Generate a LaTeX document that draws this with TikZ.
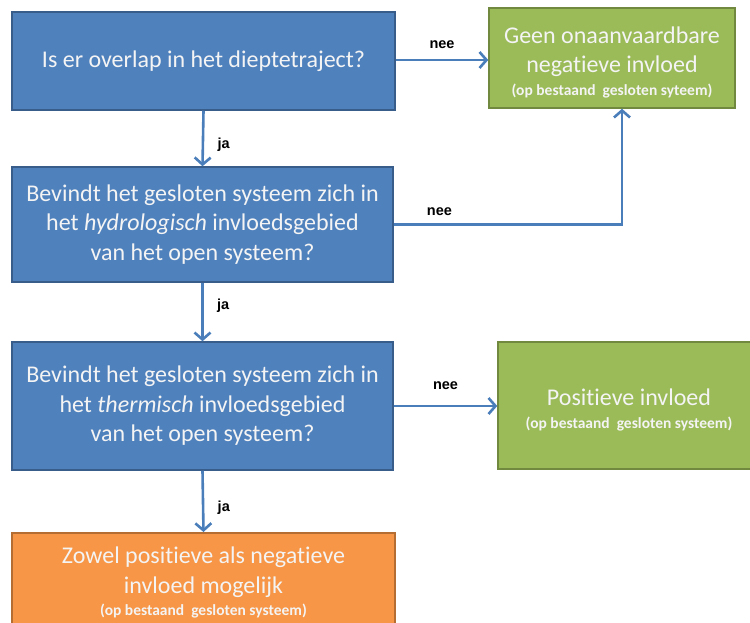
\documentclass[tikz,border=0pt]{standalone}
\usepackage{fontspec}
\setmainfont{Carlito}[Ligatures={NoCommon}]
\newfontfamily\lblfont{Liberation Sans}
\usetikzlibrary{arrows.meta}
\definecolor{bluefill}{HTML}{4F81BD}
\definecolor{blueedge}{HTML}{385D8A}
\definecolor{greenfill}{HTML}{9BBB59}
\definecolor{greenedge}{HTML}{71893F}
\definecolor{orangefill}{HTML}{F79646}
\definecolor{orangeedge}{HTML}{B66D31}
\definecolor{arrowcol}{HTML}{4A7EBB}
\definecolor{boxtext}{HTML}{F4F4F4}
\newcommand{\smallnote}[1]{{\fontsize{15.5}{17}\selectfont\bfseries #1}}
\begin{document}
\begin{tikzpicture}[x=1pt,y=-1pt,
  box/.style={draw, line width=1.5pt, inner sep=0pt, align=center, text=boxtext, font=\fontsize{24}{29.5}\selectfont},
  bluebox/.style={box, fill=bluefill, draw=blueedge},
  greenbox/.style={box, fill=greenfill, draw=greenedge},
  orangebox/.style={box, fill=orangefill, draw=orangeedge},
  boxtxt/.style={text=boxtext, align=center, inner sep=0pt, font=\fontsize{24}{29.5}\selectfont},
  conn/.style={draw=arrowcol, line width=2.6pt, -{Straight Barb[length=7pt,width=16pt,line width=2.6pt]}},
  lbl/.style={font=\lblfont\bfseries\fontsize{14.5}{16}\selectfont, text=black}
]
\useasboundingbox (0,0) rectangle (750,623);
\node[bluebox, minimum width=383pt, minimum height=98pt] (q1) at (203.5,61) {Is er overlap in het dieptetraject?};
\node[greenbox, minimum width=246pt, minimum height=100pt] (g1) at (612,58) {};
\node[boxtxt] (g1t) at (612,62) {Geen onaanvaardbare\\negatieve invloed\\[-7pt]\smallnote{(op bestaand\ \ gesloten syteem)}};
\node[bluebox, minimum width=381pt, minimum height=115pt] (q2) at (202.5,224.5) {Bevindt het gesloten systeem zich in\\het \textit{hydrologisch} invloedsgebied\\van het open systeem?};
\node[bluebox, minimum width=381pt, minimum height=128pt] (q3) at (202.5,406) {Bevindt het gesloten systeem zich in\\het \textit{thermisch} invloedsgebied\\van het open systeem?};
\node[greenbox, minimum width=262pt, minimum height=127pt] (g2) at (629,405.5) {};
\node[boxtxt] (g2t) at (629,410) {Positieve invloed\\[-7pt]\smallnote{(op bestaand\ \ gesloten systeem)}};
\node[orangebox, minimum width=383pt, minimum height=110pt, anchor=north] (o1) at (203.5,532) {};
\node[boxtxt, anchor=north] (o1t) at (203.5,547) {Zowel positieve als negatieve\\invloed mogelijk\\[-7pt]\smallnote{(op bestaand\ \ gesloten systeem)}};
\coordinate (c1) at (622,224.5);
\draw[conn] (q1.east |- 0,60) -- (g1.west |- 0,60) node[lbl, midway, above=7pt] {nee};
\draw[conn] (q1.south) -- (q2.north) node[lbl, pos=0.62, right=10pt] {ja};
\draw[conn] (q2.east) -- (c1) node[lbl, pos=0.2, above=4pt] {nee} -- (c1 |- g1.south);
\draw[conn] (q2.south) -- (q3.north) node[lbl, pos=0.4, right=10pt] {ja};
\draw[conn] (q3.east) -- (g2.west |- q3.east) node[lbl, midway, above=12pt] {nee};
\draw[conn] (q3.south) -- (o1.north) node[lbl, pos=0.6, right=10pt] {ja};
\end{tikzpicture}
\end{document}
